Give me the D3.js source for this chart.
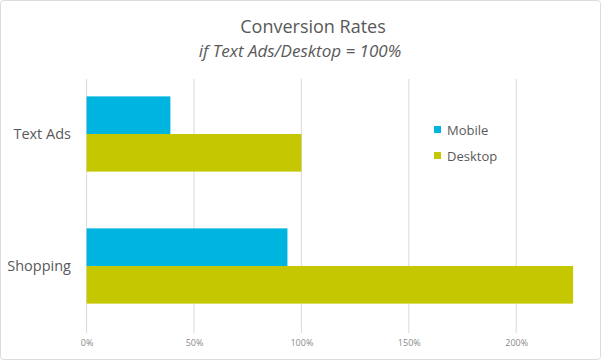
<!DOCTYPE html>
<html><head><meta charset="utf-8">
<script src="https://cdn.jsdelivr.net/npm/d3@7"></script>
<style>html,body{margin:0;padding:0;background:#fff;}svg{display:block;font-family:"Open Sans",sans-serif;}</style>
</head><body>
<svg id="c" width="601" height="360"></svg>
<script>
const categories = ["Text Ads", "Shopping"];
const seriesNames = ["Mobile", "Desktop"];
const mobileValues = [39, 93.5];
const desktopValues = [100, 226.5];
const tickValues = [0, 50, 100, 150, 200];
const tickLabels = ["0%", "50%", "100%", "150%", "200%"];
const colors = ["#00b4e0", "#c5c800"];

const svg = d3.select("#c");
svg.append("rect").attr("x",0.5).attr("y",0.5).attr("width",600).attr("height",359)
  .attr("rx",3).attr("fill","#fff").attr("stroke","#dcdcdc");

const x = d3.scaleLinear().domain([0, 250]).range([86.6, 623.6]);
const y = d3.scaleBand().domain(categories).range([68, 332]).paddingInner(0.43).paddingOuter(0.215);
const ys = d3.scaleBand().domain(seriesNames).range([0, y.bandwidth()]);

// gridlines
svg.append("g").selectAll("line").data(tickValues).join("line")
  .attr("x1", d => x(d)).attr("x2", d => x(d))
  .attr("y1", 79).attr("y2", 333)
  .attr("stroke", "#d9d9d9").attr("stroke-width", 1);

// axis labels
const ax = svg.append("g").attr("transform", "translate(0,343)")
  .call(d3.axisBottom(x).tickValues(tickValues).tickFormat((d,i) => tickLabels[i]).tickSize(0));
ax.select(".domain").remove();
ax.selectAll("text").attr("fill", "#8a8a8a").attr("font-size", "9px").attr("font-family", "Open Sans").attr("dy", "0.32em").attr("y", 0);

const series = [mobileValues, desktopValues];
series.forEach((vals, si) => {
  svg.append("g").selectAll("rect").data(categories).join("rect")
    .attr("x", x(0))
    .attr("y", c => y(c) + ys(seriesNames[si]))
    .attr("width", (c, i) => x(vals[i]) - x(0))
    .attr("height", ys.bandwidth())
    .attr("fill", colors[si]);
});

// category labels
const yAx = svg.append("g").attr("transform", "translate(71,0)")
  .call(d3.axisLeft(y).tickSize(0));
yAx.select(".domain").remove();
yAx.selectAll("text").attr("fill", "#595959").attr("font-size", "14.5px").attr("font-family", "Open Sans").attr("x", 0);

// title
svg.append("text").attr("x", 313).attr("y", 33).attr("text-anchor", "middle")
  .attr("fill", "#595959").attr("font-size", "18px").text("Conversion Rates");
svg.append("text").attr("x", 300).attr("y", 57).attr("text-anchor", "middle")
  .attr("fill", "#595959").attr("font-size", "17px").attr("font-style", "italic").text("if Text Ads/Desktop = 100%");

// legend
const lg = svg.append("g").selectAll("g").data(seriesNames).join("g")
  .attr("transform", (d, i) => `translate(434,${126 + i * 26})`);
lg.append("rect").attr("width", 7).attr("height", 7).attr("fill", (d, i) => colors[i]);
lg.append("text").attr("x", 13).attr("y", 4).attr("dy", "0.35em")
  .attr("fill", "#595959").attr("font-size", "13px").text(d => d);
</script>
</body></html>
